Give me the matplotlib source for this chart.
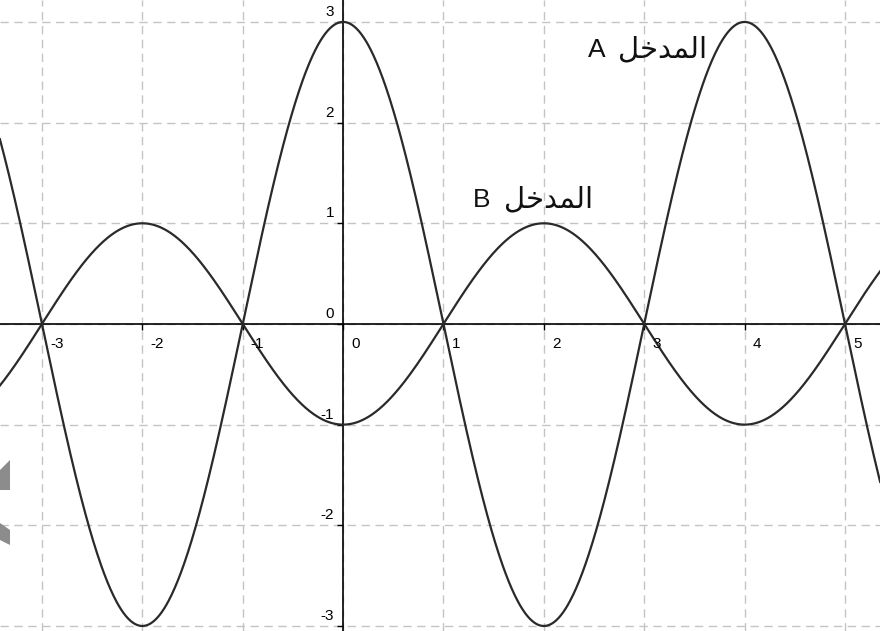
import numpy as np
import matplotlib
matplotlib.use("Agg")
import matplotlib.pyplot as plt
from matplotlib.patches import Polygon

# ---- data ----
curve_names = ["A", "B"]
amplitudes = [3.0, -1.0]          # A peaks at x=0 (3), B has a trough at x=0 (-1)
period = 4.0
x_ticks = [-3, -2, -1, 0, 1, 2, 3, 4, 5]
y_ticks = [-3, -2, -1, 0, 1, 2, 3]
arabic_word = "\uFEDE\uFEA7\uFEAA\uFEE4\uFEDF\uFE8D"   # المدخل (shaped, visual order)
letter_pos = [(2.44, 2.652), (1.295, 1.162)]
word_pos = [(2.74, 2.652), (1.60, 1.162)]
x_range = (-3.418, 5.349)
y_range = (-3.05, 3.218)

plt.rcParams['font.family'] = ['Liberation Sans', 'DejaVu Sans']

fig = plt.figure(figsize=(8.8, 6.31), dpi=100)
ax = fig.add_axes([0, 0, 1, 1])
ax.set_xlim(*x_range)
ax.set_ylim(*y_range)

# grid
for xv in x_ticks:
    ax.axvline(xv, color='#c4c4c4', lw=1.0, dashes=(6, 4), zorder=1)
for yv in y_ticks:
    ax.axhline(yv, color='#c4c4c4', lw=1.0, dashes=(6, 4), zorder=1)

# axes through origin
for s in ['top', 'right']:
    ax.spines[s].set_visible(False)
ax.spines['left'].set_position(('data', 0))
ax.spines['bottom'].set_position(('data', 0))
ax.spines['left'].set_linewidth(1.2)
ax.spines['bottom'].set_linewidth(1.2)
ax.spines['left'].set_zorder(2)
ax.spines['bottom'].set_zorder(2)
ax.set_xticks(x_ticks)
ax.set_yticks(y_ticks)
ax.tick_params(direction='out', length=4, width=1, labelbottom=False, labelleft=False)

# curves
xs = np.linspace(x_range[0] - 0.2, x_range[1] + 0.2, 1200)
for amp in amplitudes:
    ax.plot(xs, amp * np.cos(2 * np.pi * xs / period), color='#2a2a2a', lw=1.6, zorder=3)

# tick labels
for xv in x_ticks:
    ax.annotate(str(xv), (xv, 0), xytext=(8, -13), textcoords='offset pixels',
                ha='left', va='top', fontsize=11, color='black', zorder=4)
for yv in y_ticks:
    ax.annotate(str(yv), (0, yv), xytext=(-9, 3), textcoords='offset pixels',
                ha='right', va='bottom', fontsize=11, color='black', zorder=4)

# curve labels
for name, (lx, ly), (wx, wy) in zip(curve_names, letter_pos, word_pos):
    ax.text(lx, ly, name, fontsize=19, ha='left', va='baseline', color='#111111',
            family=['Liberation Sans'], zorder=4)
    ax.text(wx, wy, arabic_word, fontsize=21, ha='left', va='baseline', color='#111111',
            family=['DejaVu Sans'], zorder=4)

# small gray clipped shapes at the left edge (screenshot artefacts)
for pts in ([(0, 470), (10, 460), (10, 490), (0, 490)],
            [(0, 523), (10, 530), (10, 545), (0, 540)]):
    fig.patches.append(Polygon([(px / 880, 1 - py / 631) for px, py in pts], closed=True,
                               transform=fig.transFigure, facecolor='#8c8c8c',
                               edgecolor='none', zorder=5))

fig.savefig('out.png', dpi=100)
